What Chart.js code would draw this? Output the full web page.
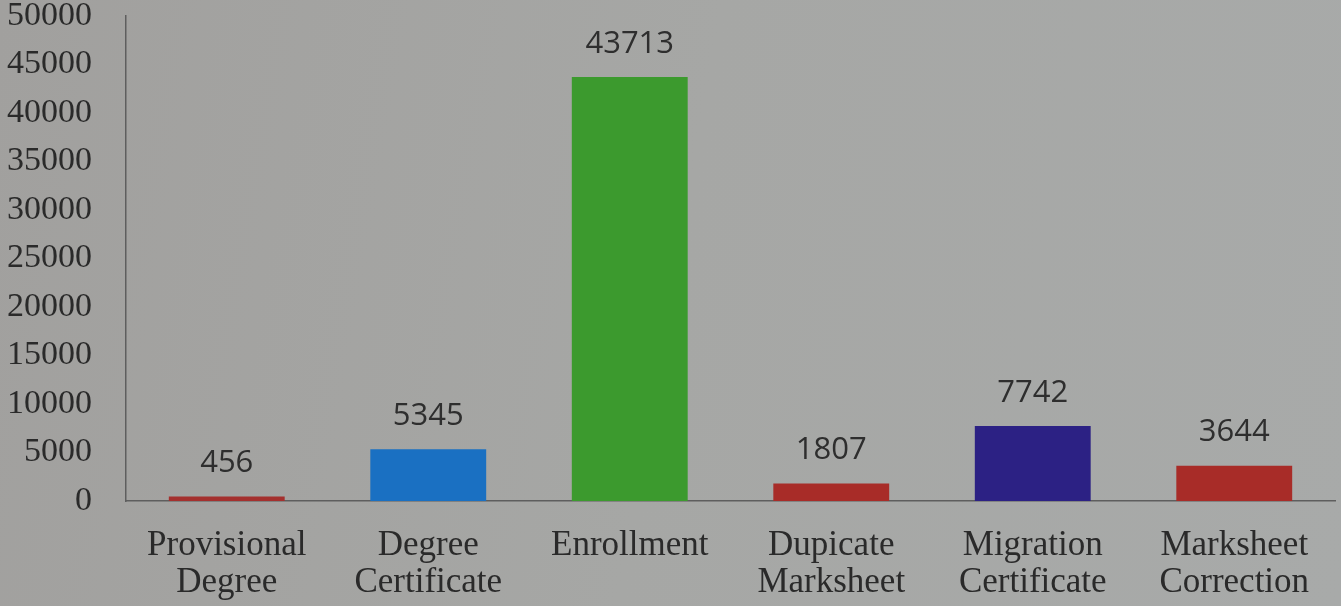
<!DOCTYPE html>
<html>
<head>
<meta charset="utf-8">
<script src="https://cdn.jsdelivr.net/npm/chart.js@4/dist/chart.umd.min.js"></script>
<style>
    html, body {
        margin: 0;
        padding: 0;
        background: linear-gradient(100deg, #a1a09e 0%, #a6a7a5 50%, #a8aaa9 100%);
    }
    canvas { display: block; }
</style>
</head>
<body>
<canvas id="barChart" width="1341" height="606"></canvas>
<script>
var categories = [
    ['Provisional', 'Degree'],
    ['Degree', 'Certificate'],
    'Enrollment',
    ['Dupicate', 'Marksheet'],
    ['Migration', 'Certificate'],
    ['Marksheet', 'Correction']
];
var counts = [456, 5345, 43713, 1807, 7742, 3644];
var barColors = ['#a4302e', '#1a70c2', '#3c9a2e', '#a82c28', '#2c2184', '#a82c28'];
var yTicks = [0, 5000, 10000, 15000, 20000, 25000, 30000, 35000, 40000, 45000, 50000];

// draws the number above each bar
var valueLabels = {
    id: 'valueLabels',
    afterDatasetsDraw: function (chart) {
        var ctx = chart.ctx;
        var meta = chart.getDatasetMeta(0);
        ctx.save();
        ctx.font = '31px "Open Sans"';
        ctx.fillStyle = '#2e2e2e';
        ctx.textAlign = 'center';
        ctx.textBaseline = 'middle';
        meta.data.forEach(function (bar, i) {
            ctx.fillText(String(counts[i]), bar.x, bar.y - 33);
        });
        ctx.restore();
    }
};

var barChart = new Chart('barChart', {
    type: 'bar',
    data: {
        labels: categories,
        datasets: [{
            label: 'Count',
            data: counts,
            backgroundColor: barColors,
            borderWidth: 0,
            categoryPercentage: 1,
            barPercentage: 0.575
        }]
    },
    options: {
        responsive: false,
        animation: false,
        layout: {
            padding: { top: 0, right: 6, bottom: 0, left: 0 }
        },
        scales: {
            y: {
                min: 0,
                max: 50000,
                afterFit: function (scale) {
                    scale.width = 126;
                    scale.paddingTop = 16;
                    scale.paddingBottom = 0;
                },
                afterBuildTicks: function (scale) {
                    scale.ticks = yTicks.map(function (v) { return { value: v }; });
                },
                ticks: {
                    color: '#2a2a2a',
                    padding: 34,
                    font: { family: '"Liberation Serif"', size: 34 },
                    callback: function (v) { return String(v); }
                },
                grid: { display: false, drawTicks: false },
                border: { display: true, color: '#5e5e5e', width: 1.5 }
            },
            x: {
                afterFit: function (scale) { scale.height = 105; },
                ticks: {
                    color: '#2a2a2a',
                    padding: 26,
                    maxRotation: 0,
                    autoSkip: false,
                    font: { family: '"Liberation Serif"', size: 35, lineHeight: 1.06 }
                },
                grid: { display: false, drawTicks: false },
                border: { display: true, color: '#5e5e5e', width: 1.5 }
            }
        },
        plugins: {
            legend: { display: false },
            title: { display: false },
            tooltip: { enabled: false }
        }
    },
    plugins: [valueLabels]
});
</script>
</body>
</html>
